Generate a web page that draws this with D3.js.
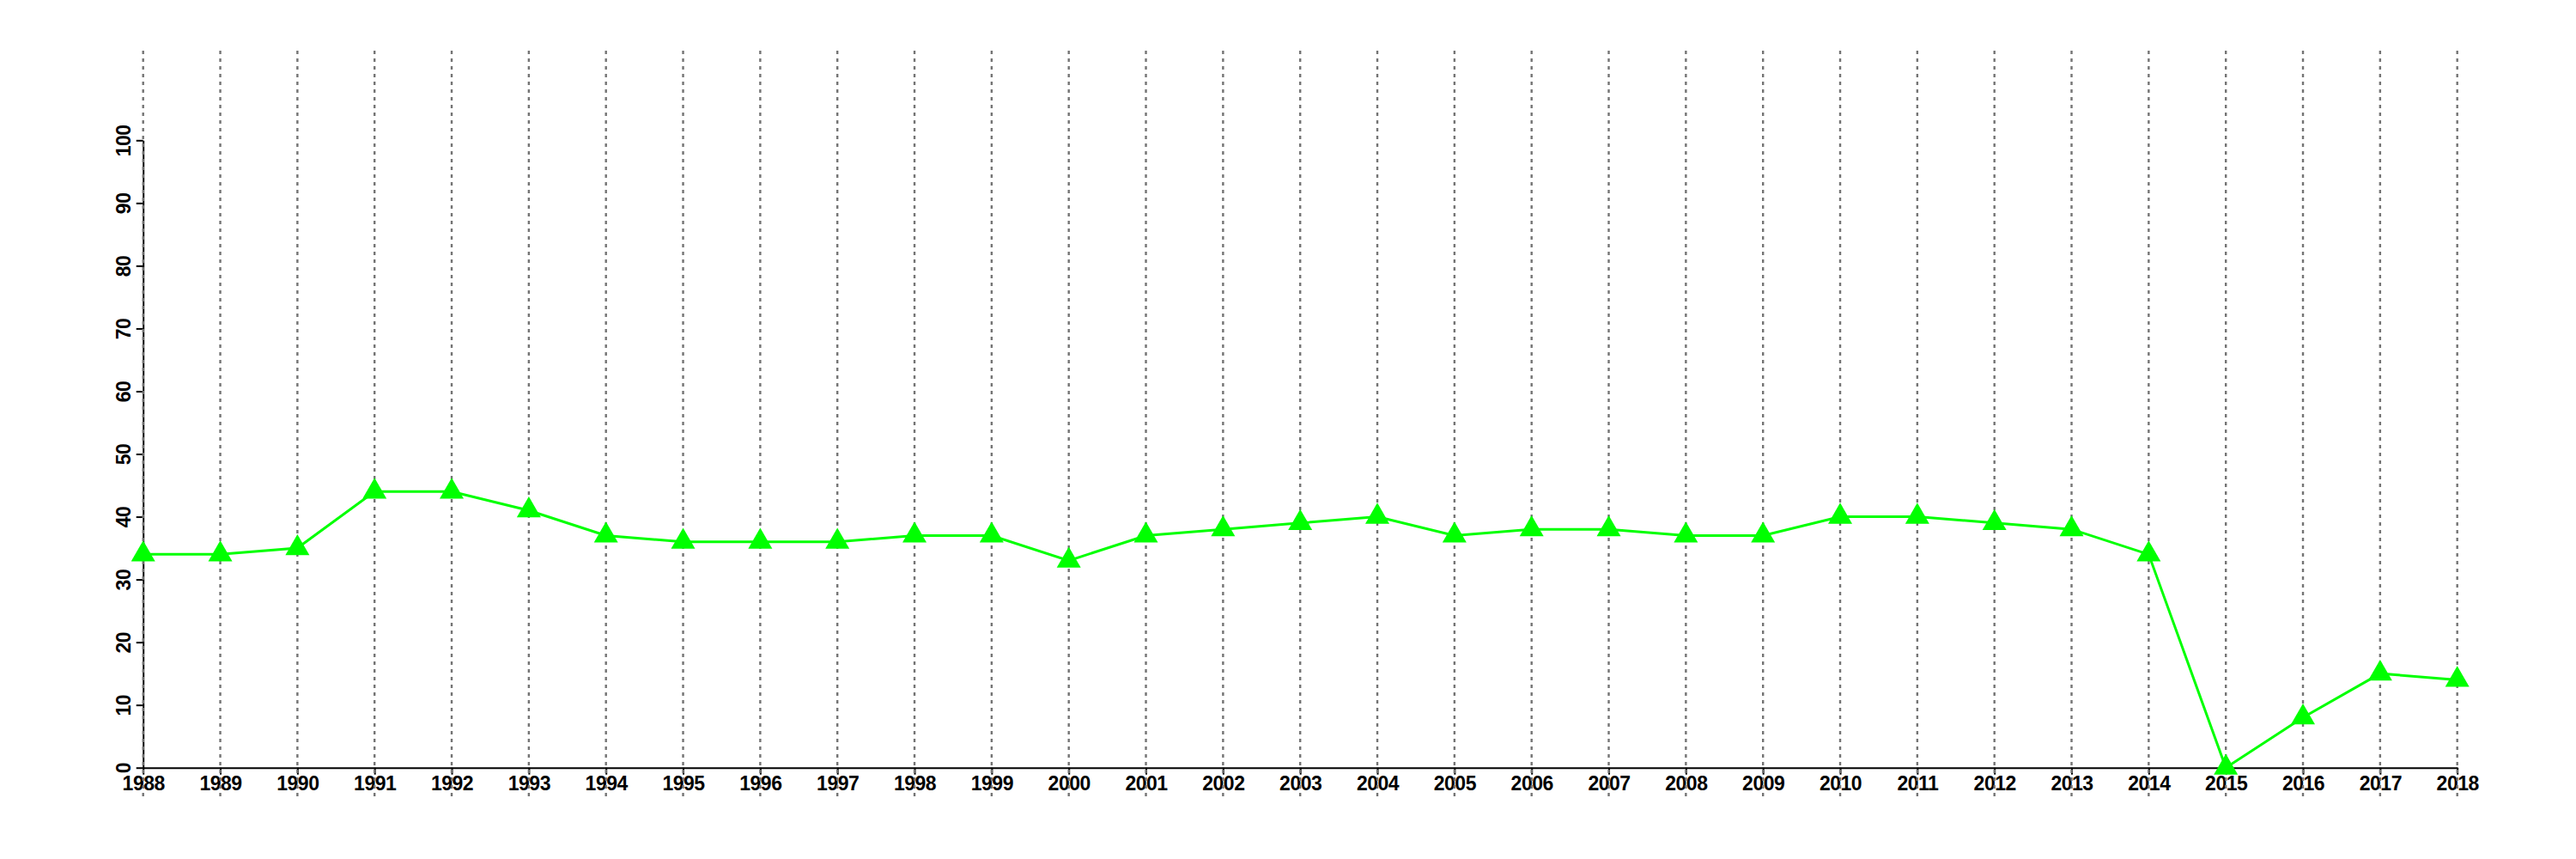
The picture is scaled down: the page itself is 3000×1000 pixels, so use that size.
<!DOCTYPE html>
<html>
<head>
<meta charset="utf-8">
<script src="https://cdn.jsdelivr.net/npm/d3@7"></script>
<style>
  html, body { margin: 0; padding: 0; background: #fff; }
  svg { display: block; }
  text { font-family: "Liberation Sans", Arial, Helvetica, sans-serif; font-weight: bold; }
</style>
</head>
<body>
<script>
const years = [1988,1989,1990,1991,1992,1993,1994,1995,1996,1997,1998,1999,2000,2001,2002,2003,2004,2005,2006,2007,2008,2009,2010,2011,2012,2013,2014,2015,2016,2017,2018];
const values = [34,34,35,44,44,41,37,36,36,36,37,37,33,37,38,39,40,37,38,38,37,37,40,40,39,38,34,0,8,15,14];
const yTicks = [0,10,20,30,40,50,60,70,80,90,100];

const W = 3000, H = 1000;
const x0 = 166.7, x1 = 2861.7, yTop = 163.3, yBot = 893.7;

const svg = d3.select("body").append("svg").attr("width", W).attr("height", H);

const x = d3.scaleLinear().domain([d3.min(years), d3.max(years)]).range([x0, x1]);
const y = d3.scaleLinear().domain([0, 100]).range([yBot, yTop]);

// x axis
const xAxis = svg.append("g").attr("transform", `translate(0,${yBot})`)
  .call(d3.axisBottom(x).tickValues(years).tickFormat(d3.format("d")).tickSizeInner(8).tickSizeOuter(0).tickPadding(4));
xAxis.select(".domain").attr("stroke", "#000").attr("stroke-width", 2);
xAxis.selectAll(".tick line").attr("stroke", "#000").attr("stroke-width", 2);
xAxis.selectAll(".tick text").attr("fill", "#000").style("font-size", "23px").style("letter-spacing", "-0.5px")
  .attr("y", 0).attr("dy", "26px");

// y axis
const yAxis = svg.append("g").attr("transform", `translate(${x0},0)`)
  .call(d3.axisLeft(y).tickValues(yTicks).tickFormat(d3.format("d")).tickSizeInner(8).tickSizeOuter(0));
yAxis.select(".domain").attr("stroke", "#000").attr("stroke-width", 2);
yAxis.selectAll(".tick line").attr("stroke", "#000").attr("stroke-width", 2);
yAxis.selectAll(".tick text").attr("fill", "#000").style("font-size", "23px").style("letter-spacing", "-0.5px")
  .attr("x", null).attr("dy", null)
  .attr("text-anchor", "middle")
  .attr("transform", "translate(-15,0) rotate(-90)");

// vertical dotted gridlines
svg.append("g").selectAll("line").data(years).join("line")
  .attr("x1", d => x(d)).attr("x2", d => x(d))
  .attr("y1", 59).attr("y2", 928)
  .attr("stroke", "#747474").attr("stroke-width", 2.4)
  .attr("stroke-dasharray", "4,5");

// data line
const line = d3.line().x((d, i) => x(years[i])).y(d => y(d));
svg.append("path").datum(values)
  .attr("d", line)
  .attr("fill", "none").attr("stroke", "#00ff00").attr("stroke-width", 3);

// markers
const tri = d3.symbol().type(d3.symbolTriangle).size(340);
svg.append("g").selectAll("path").data(values).join("path")
  .attr("transform", (d, i) => `translate(${x(years[i])},${y(d)})`)
  .attr("d", tri)
  .attr("fill", "#00ff00");
</script>
</body>
</html>
